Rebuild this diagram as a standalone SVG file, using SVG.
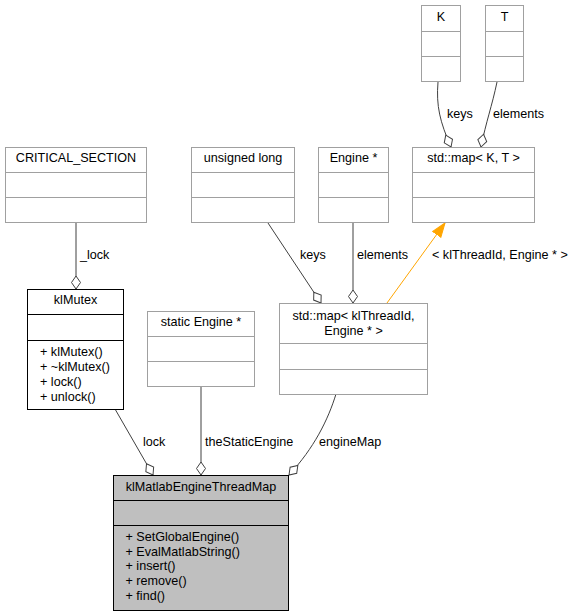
<svg xmlns="http://www.w3.org/2000/svg" width="577" height="616" viewBox="0 0 577 616">
<style>
text{font-family:"Liberation Sans",Arial,sans-serif;font-size:12.6px;fill:#000}
.c{text-anchor:middle}
.g{fill:#fff;stroke:#a0a0a0;stroke-width:1}
.b{fill:#fff;stroke:#000;stroke-width:1}
.m{fill:#bfbfbf;stroke:#000;stroke-width:1}
.e{fill:none;stroke:#404040;stroke-width:1}
.o{fill:none;stroke:#ffa500;stroke-width:1}
</style>
<defs>
<marker id="dia" markerUnits="userSpaceOnUse" markerWidth="16" markerHeight="12" viewBox="-1 -6 15 12" refX="13" refY="0" orient="auto">
<path d="M0,0 L6.5,-4.5 L13,0 L6.5,4.5 z" fill="#fff" stroke="#404040" stroke-width="1"/>
</marker>
<marker id="tri" markerUnits="userSpaceOnUse" markerWidth="16" markerHeight="14" viewBox="0 -7 15 14" refX="14" refY="0" orient="auto">
<path d="M0,-5 L14,0 L0,5 z" fill="#ffa500" stroke="#ffa500"/>
</marker>
</defs>
<g id="edges">
<path class="e" d="M76,222 L76,289" marker-end="url(#dia)"/>
<path class="e" d="M115,409 L153,475" marker-end="url(#dia)"/>
<path class="e" d="M201,387 L201,475" marker-end="url(#dia)"/>
<path class="e" d="M336,394 C328,420 314,448 289,475" marker-end="url(#dia)"/>
<path class="e" d="M268,223 L321,303" marker-end="url(#dia)"/>
<path class="e" d="M353,223 L353,303" marker-end="url(#dia)"/>
<path class="o" d="M387,303 L445,223" marker-end="url(#tri)"/>
<path class="e" d="M438,82 C436,106 440,122 451,147" marker-end="url(#dia)"/>
<path class="e" d="M497,82 C492,106 486,122 481,147" marker-end="url(#dia)"/>
<text x="80" y="259">_lock</text>
<text x="143" y="446">lock</text>
<text x="205" y="446">theStaticEngine</text>
<text x="319" y="446">engineMap</text>
<text x="300" y="259">keys</text>
<text x="357" y="259">elements</text>
<text x="432" y="259">&lt; klThreadId, Engine * &gt;</text>
<text x="447" y="118">keys</text>
<text x="493" y="118">elements</text>
</g>
<g id="n_critical">
<rect class="g" x="5.5" y="147.5" width="141" height="75"/>
<path class="g" d="M5.5,172.5 H146.5 M5.5,197.5 H146.5"/>
<text class="c" x="76" y="162">CRITICAL_SECTION</text>
</g>
<g id="n_klMutex">
<rect class="b" x="27.5" y="289.5" width="96" height="120"/>
<path class="b" d="M27.5,314.5 H123.5 M27.5,340.5 H123.5"/>
<text class="c" x="75.5" y="304">klMutex</text>
<text x="40" y="356">+ klMutex()</text>
<text x="40" y="371">+ ~klMutex()</text>
<text x="40" y="386">+ lock()</text>
<text x="40" y="401">+ unlock()</text>
</g>
<g id="n_ulong">
<rect class="g" x="191.5" y="147.5" width="103" height="75"/>
<path class="g" d="M191.5,172.5 H294.5 M191.5,197.5 H294.5"/>
<text class="c" x="243" y="162">unsigned long</text>
</g>
<g id="n_engine">
<rect class="g" x="318.5" y="147.5" width="70" height="75"/>
<path class="g" d="M318.5,172.5 H388.5 M318.5,197.5 H388.5"/>
<text class="c" x="353.5" y="162">Engine *</text>
</g>
<g id="n_mapKT">
<rect class="g" x="412.5" y="147.5" width="122" height="75"/>
<path class="g" d="M412.5,172.5 H534.5 M412.5,197.5 H534.5"/>
<text class="c" x="473.5" y="162">std::map&lt; K, T &gt;</text>
</g>
<g id="n_K">
<rect class="g" x="421.5" y="5.5" width="39" height="76"/>
<path class="g" d="M421.5,31.5 H460.5 M421.5,56.5 H460.5"/>
<text class="c" x="441" y="21">K</text>
</g>
<g id="n_T">
<rect class="g" x="485.5" y="5.5" width="38" height="76"/>
<path class="g" d="M485.5,31.5 H523.5 M485.5,56.5 H523.5"/>
<text class="c" x="504.5" y="21">T</text>
</g>
<g id="n_static">
<rect class="g" x="147.5" y="311.5" width="107" height="75"/>
<path class="g" d="M147.5,336.5 H254.5 M147.5,361.5 H254.5"/>
<text class="c" x="201" y="326">static Engine *</text>
</g>
<g id="n_mapKE">
<rect class="g" x="279.5" y="303.5" width="148" height="91"/>
<path class="g" d="M279.5,343.5 H427.5 M279.5,369.5 H427.5"/>
<text class="c" x="353.5" y="320">std::map&lt; klThreadId,</text>
<text class="c" x="353.5" y="335">Engine * &gt;</text>
</g>
<g id="n_main">
<rect class="m" x="113.5" y="475.5" width="175" height="135"/>
<path class="m" d="M113.5,500.5 H288.5 M113.5,525.5 H288.5"/>
<text class="c" x="201" y="491">klMatlabEngineThreadMap</text>
<text x="125.5" y="541">+ SetGlobalEngine()</text>
<text x="125.5" y="556">+ EvalMatlabString()</text>
<text x="125.5" y="570">+ insert()</text>
<text x="125.5" y="585">+ remove()</text>
<text x="125.5" y="600">+ find()</text>
</g>
</svg>
